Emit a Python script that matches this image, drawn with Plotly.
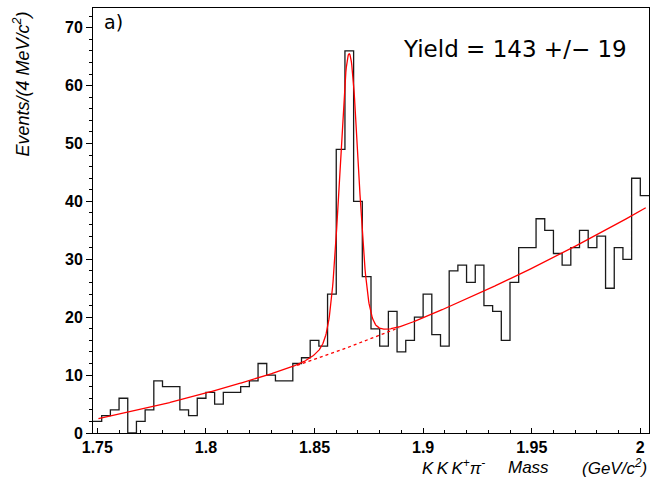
import numpy as np
import plotly.graph_objects as go

# Histogram: K K K+ pi- invariant mass, 4 MeV bins starting at 1.748 GeV
bin_lo = 1.748
bin_width = 0.004
counts = [2, 3, 4, 6, 0, 2, 4, 9, 8, 8,
          4, 3, 6, 7, 5, 7, 7, 8, 9, 12,
          10, 9, 9, 12, 13, 16, 15, 24, 49, 66,
          40, 27, 18, 15, 21, 14, 16, 20, 24, 17,
          15, 28, 29, 26, 29, 22, 21, 16, 26, 32,
          32, 37, 35, 31, 29, 32, 35, 32, 34, 25,
          32, 30, 44, 41]

# Fit result: double-Gaussian signal + quadratic background (in t = m - 1.75)
sig_yield = 143
sig_yield_err = 19
sig_mean = 1.8659
sig_sigma_core = 0.00414
sig_sigma_wide = 0.009
sig_frac_wide = 0.15
bkg_ref = 1.75
bkg_coef = [2.45, 75.3, 273.4]
fit_range = [1.7505, 2.0025]
bkg_only_range = [1.842, 1.889]

x_tickvals = [1.75, 1.8, 1.85, 1.9, 1.95, 2.0]
x_ticktext = ["1.75", "1.8", "1.85", "1.9", "1.95", "2"]
y_tickvals = [0, 10, 20, 30, 40, 50, 60, 70]


def background(m):
    t = m - bkg_ref
    return bkg_coef[0] + bkg_coef[1] * t + bkg_coef[2] * t ** 2


def gauss(m, s):
    return np.exp(-0.5 * ((m - sig_mean) / s) ** 2) / (s * np.sqrt(2 * np.pi))


def total(m):
    n = sig_yield * bin_width  # signal area in (events per bin) x GeV
    sig = n * ((1 - sig_frac_wide) * gauss(m, sig_sigma_core)
               + sig_frac_wide * gauss(m, sig_sigma_wide))
    return background(m) + sig


edges = bin_lo + bin_width * np.arange(len(counts) + 1)
step_y = counts + [counts[-1]]

m_full = np.linspace(fit_range[0], fit_range[1], 1200)
m_bkg = np.linspace(bkg_only_range[0], bkg_only_range[1], 200)

fig = go.Figure()
fig.add_trace(go.Scatter(
    x=edges, y=step_y, mode="lines", line_shape="hv",
    line=dict(color="#1a1a1a", width=1.3), hoverinfo="skip", showlegend=False))
fig.add_trace(go.Scatter(
    x=m_bkg, y=background(m_bkg), mode="lines",
    line=dict(color="#ff0000", width=1.3, dash="dot"), showlegend=False))
fig.add_trace(go.Scatter(
    x=m_full, y=total(m_full), mode="lines",
    line=dict(color="#ff0000", width=1.3), showlegend=False))

tick_font = dict(family="Liberation Sans, Arial, sans-serif", size=16, color="black", weight="bold")
title_font = dict(family="Liberation Sans, Arial, sans-serif", size=17, color="black", style="italic")
label_font = dict(family="DejaVu Sans, sans-serif", color="black")

fig.update_xaxes(
    range=[bin_lo, bin_lo + bin_width * len(counts)],
    tickvals=x_tickvals, ticktext=x_ticktext,
    ticks="inside", ticklen=5, tickwidth=1, tickcolor="black",
    minor=dict(ticks="inside", dtick=0.01, tick0=1.75, ticklen=3, tickwidth=1, tickcolor="black"),
    showline=True, linecolor="black", linewidth=1, mirror=True,
    showgrid=False, zeroline=False, tickfont=tick_font)
fig.update_yaxes(
    range=[0, 73.4],
    tickvals=y_tickvals,
    ticks="outside", ticklen=6, tickwidth=1, tickcolor="black",
    minor=dict(ticks="outside", dtick=2, tick0=0, ticklen=3, tickwidth=1, tickcolor="black"),
    showline=True, linecolor="black", linewidth=1, mirror=True,
    showgrid=False, zeroline=False, tickfont=tick_font)

annotations = [
    dict(text="a)", x=0.016, y=0.968, xanchor="left", yanchor="middle",
         font=dict(size=19, **label_font)),
    dict(text=f"Yield = {sig_yield} +/\u2212 {sig_yield_err}", x=0.554, y=0.9035,
         xanchor="left", yanchor="middle", font=dict(size=23, **label_font)),
    dict(text="K\u2009K\u2009K<sup>+</sup>\u03c0<sup>-</sup>", x=(420 - 93) / 556, y=-0.08,
         xanchor="left", yanchor="middle", font=title_font),
    dict(text="Mass", x=(506 - 93) / 556, y=-0.08,
         xanchor="left", yanchor="middle", font=title_font),
    dict(text="(GeV/c<sup>2</sup>)", x=1.0, y=-0.08,
         xanchor="right", yanchor="middle", font=title_font),
    dict(text="Events/(4 MeV/c<sup>2</sup>)", x=(22 - 93) / 556, y=(433 - 10) / 425,
         xanchor="center", yanchor="top", textangle=-90,
         font=dict(title_font, size=18)),
]
for a in annotations:
    a.update(xref="paper", yref="paper", showarrow=False)

fig.update_layout(
    width=650, height=488,
    margin=dict(l=93, r=1, t=8, b=55),
    paper_bgcolor="white", plot_bgcolor="white",
    annotations=annotations, showlegend=False)

fig.write_html("out.html")
